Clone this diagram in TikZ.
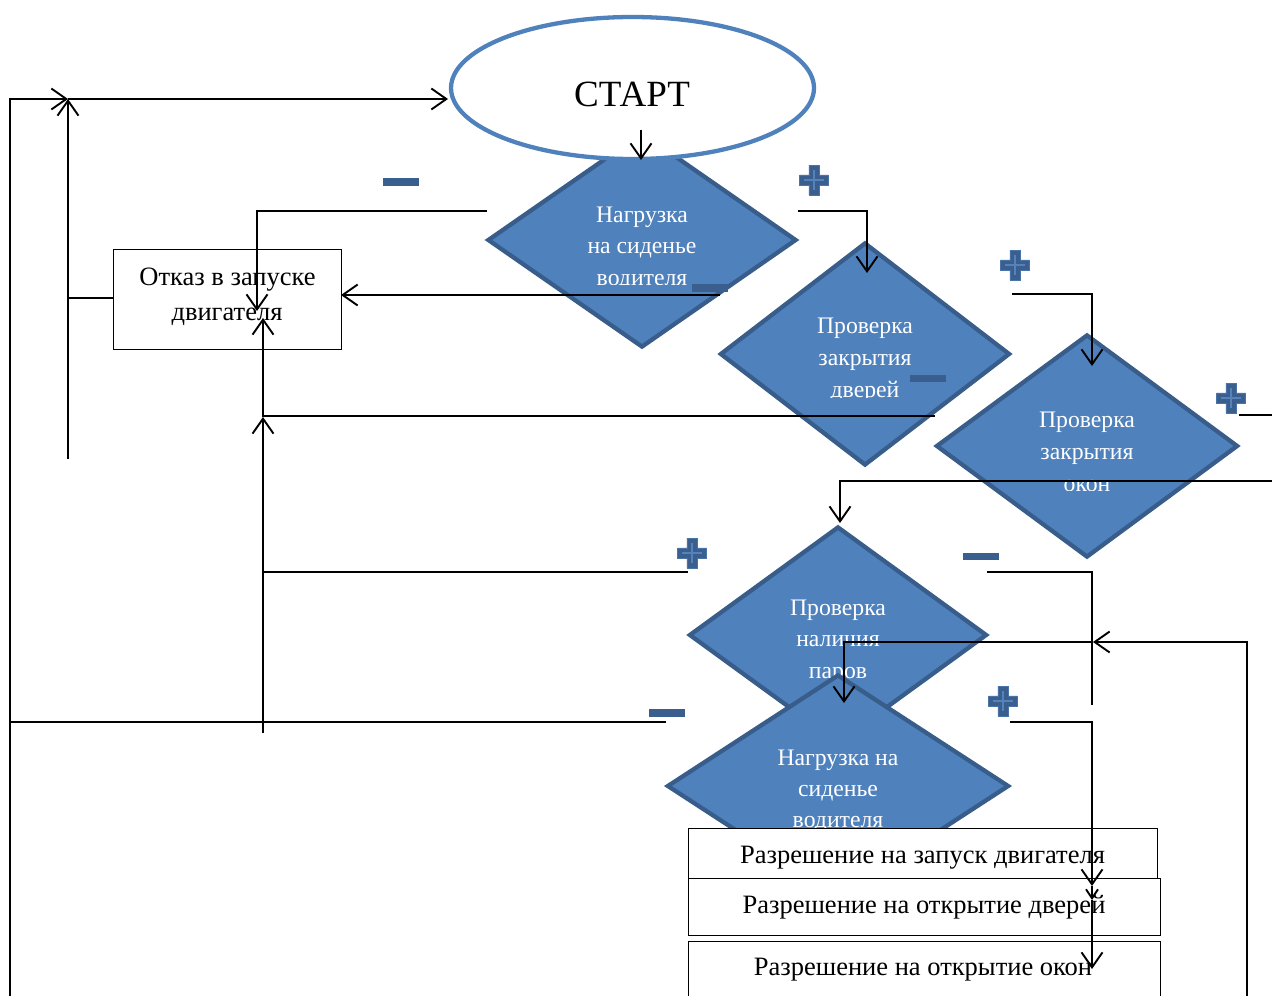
\documentclass[tikz,border=0pt]{standalone}
\usepackage{fontspec}
\setmainfont{Liberation Serif}
\usetikzlibrary{shapes.geometric,arrows.meta}
\definecolor{dfill}{RGB}{79,129,189}
\definecolor{dline}{RGB}{56,93,138}
\definecolor{signc}{RGB}{58,95,142}
\definecolor{signl}{RGB}{84,130,185}
\tikzset{
  dia/.style={diamond, draw=dline, line width=4.3pt, fill=dfill, inner sep=0pt, line join=miter},
  dtext/.style={text=white, font=\fontsize{23.7}{28}\selectfont, anchor=base, inner sep=0pt},
  btext/.style={font=\fontsize{26.5}{30}\selectfont, anchor=base, inner sep=0pt},
  boxnode/.style={rectangle, draw=black, line width=1pt, fill=white, inner sep=0pt},
  conn/.style={line width=1.9pt, draw=black},
  arr/.style={conn, -{Straight Barb[length=15pt,width=21pt]}},
  smallarr/.style={conn, -{Straight Barb[length=9pt,width=12pt]}},
  minussign/.style={rectangle, fill=signc, minimum width=36pt, minimum height=7.5pt, inner sep=0pt},
  plussign/.pic={
    \fill[signc, draw=signl!60!signc, line width=0.6pt] (-5.2,-15)--(5.2,-15)--(5.2,-5.2)--(14.5,-5.2)--(14.5,5.2)--(5.2,5.2)--(5.2,15)--(-5.2,15)--(-5.2,5.2)--(-14.5,5.2)--(-14.5,-5.2)--(-5.2,-5.2)--cycle;
    \draw[signl, line width=1.2pt] (0,-10)--(0,10) (-10,0)--(10,0);
  }
}
\begin{document}
\begin{tikzpicture}[x=1pt,y=-1pt]
\useasboundingbox (0,0) rectangle (1272,996);
\clip (0,0) rectangle (1272,996);

% diamond 1
\node[dia, minimum width=309pt, minimum height=215pt] (d1) at (642,240) {};
\begin{scope}
  \clip (480,190) rectangle (800,284);
  \node[dtext] (t1a) at (642,222) {Нагрузка};
  \node[dtext] (t1b) at (642,253.5) {на сиденье};
  \node[dtext] (t1c) at (642,285) {водителя};
\end{scope}

% start ellipse
\node[ellipse, draw=dfill, line width=4.3pt, fill=white, inner sep=0pt,
      minimum width=363pt, minimum height=142pt] (start) at (632.5,88) {};
\node[font=\fontsize{37}{40}\selectfont, anchor=base, inner sep=0pt] (startt) at (632,106) {СТАРТ};

% diamond 2
\node[dia, minimum width=290pt, minimum height=223pt] (d2) at (865,354) {};
\begin{scope}
  \clip (720,290) rectangle (1010,397);
  \node[dtext] (t2a) at (865,333) {Проверка};
  \node[dtext] (t2b) at (865,365) {закрытия};
  \node[dtext] (t2c) at (865,397) {дверей};
\end{scope}

% diamond 3
\node[dia, minimum width=302pt, minimum height=223pt] (d3) at (1087,446) {};
\begin{scope}
  \clip (940,380) rectangle (1235,490);
  \node[dtext] (t3a) at (1087,427) {Проверка};
  \node[dtext] (t3b) at (1087,459) {закрытия};
  \node[dtext] (t3c) at (1087,491) {окон};
\end{scope}

% diamond 4
\node[dia, minimum width=298pt, minimum height=217pt] (d4) at (838,635) {};
\node[dtext] (t4a) at (838,615) {Проверка};
\node[dtext] (t4b) at (838,646.5) {наличия};
\node[dtext] (t4c) at (838,678) {паров};

% diamond 5
\node[dia, minimum width=342pt, minimum height=223pt] (d5) at (838,786) {};
\node[dtext] (t5a) at (838,765) {Нагрузка на};
\node[dtext] (t5b) at (838,796) {сиденье};
\node[dtext] (t5c) at (838,827.5) {водителя};

% result boxes
\node[boxnode, minimum width=469pt, minimum height=51pt] (ba) at (922.5,853.5) {};
\node[btext] (bat) at (922.5,863) {Разрешение на запуск двигателя};
\node[boxnode, minimum width=472pt, minimum height=57pt] (bb) at (924,906.5) {};
\node[btext] (bbt) at (924,913) {Разрешение на открытие дверей};
\node[boxnode, minimum width=472pt, minimum height=64pt] (bc) at (924,973) {};
\node[btext] (bct) at (923,975) {Разрешение на открытие окон};

% refusal box
\node[boxnode, minimum width=228pt, minimum height=100pt] (ref) at (227,299) {};
\node[btext] (refa) at (227.5,285) {Отказ в запуске};
\node[btext] (refb) at (227,320) {двигателя};

% signs
\node[minussign] (m1) at (401,182) {};
\node[minussign] (m2) at (710,288) {};
\node[minussign] (m3) at (928,378.5) {};
\node[minussign] (m4) at (981,556.5) {};
\node[minussign] (m5) at (666.5,713) {};
\pic (p1) at (814,180) {plussign};
\pic (p2) at (1015,265) {plussign};
\pic (p3) at (1231,398) {plussign};
\pic (p4) at (692,553) {plussign};
\pic (p5) at (1003,701) {plussign};

% connector points
\coordinate (sA) at (641,130);
\coordinate (sB) at (641,160);
\coordinate (c1) at (487,211);
\coordinate (c1t) at (257,311);
\coordinate (c2) at (798,211);
\coordinate (c2t) at (867,273);
\coordinate (c3) at (720,295);
\coordinate (c3t) at (341,295);
\coordinate (c4) at (935,416);
\coordinate (v263b) at (263,733);
\coordinate (v263m) at (263,417);
\coordinate (v263t) at (263,318);
\coordinate (c5) at (1012,294);
\coordinate (c5t) at (1092,366);
\coordinate (c6) at (1239,415);
\coordinate (c6e) at (1272,415);
\coordinate (c7) at (1272,481);
\coordinate (c7t) at (840,523);
\coordinate (c8) at (688,572);
\coordinate (c8e) at (263,572);
\coordinate (c9) at (987,572);
\coordinate (c9e) at (1092,705);
\coordinate (c10) at (1247,996);
\coordinate (c10m) at (1093,642);
\coordinate (c10t) at (844,703);
\coordinate (c11) at (666,722);
\coordinate (c11e) at (10,722);
\coordinate (c12) at (1010,722);
\coordinate (c12a) at (1092,886);
\coordinate (c12b) at (1092,900);
\coordinate (c12c) at (1092,969);
\coordinate (lb) at (10,996);
\coordinate (lm) at (68,99);
\coordinate (lt) at (448,99);
\coordinate (v68b) at (68,459);
\coordinate (v68m) at (68,298);

% connectors
\draw[arr] (sA) -- (sB);
\draw[arr] (c1) -| (c1t);
\draw[arr] (c2) -| (c2t);
\draw[arr] (c3) -- (c3t);
\draw[conn] (c4) -- (v263m |- c4);
\draw[arr] (v263b) -- (v263m);
\draw[arr] (v263m) -- (v263t);
\draw[arr] (c5) -| (c5t);
\draw[conn] (c6) -- (c6e);
\draw[arr] (c7) -| (c7t);
\draw[conn] (c8) -- (c8e);
\draw[conn] (c9) -| (c9e);
\draw[arr] (c10) |- (c10m);
\draw[arr] (c10m) -| (c10t);
\draw[conn] (c11) -- (c11e);
\draw[arr] (c12) -| (c12a);
\draw[smallarr] (c12a) -- (c12b);
\draw[arr] (c12b) -- (c12c);
\draw[arr] (lb) |- (lm);
\draw[arr] (lm) -- (lt);
\draw[arr] (v68b) -- (lm);
\draw[conn] (v68m) -- (ref.west |- v68m);
\end{tikzpicture}
\end{document}
